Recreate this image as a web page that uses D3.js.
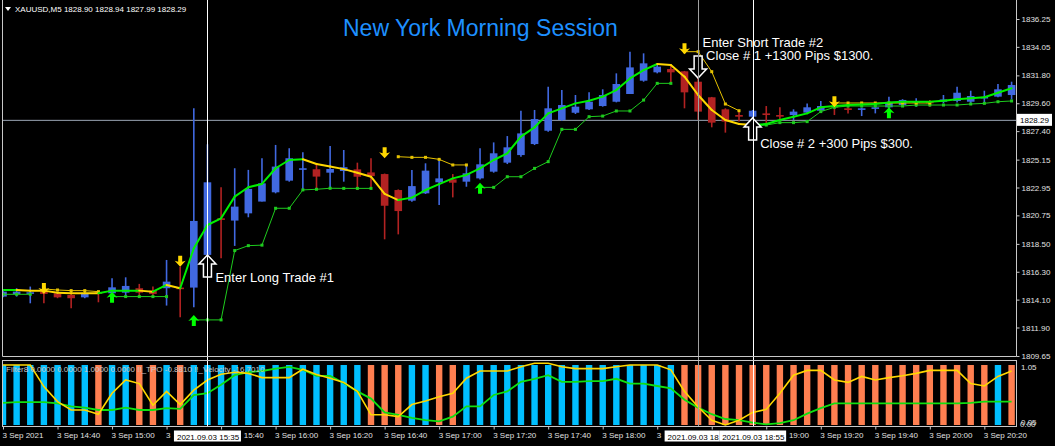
<!DOCTYPE html>
<html>
<head>
<meta charset="utf-8">
<script src="https://cdn.jsdelivr.net/npm/d3@7"></script>
<style>
  body { margin: 0; background: #000; }
  svg text { font-family: "Liberation Sans", Arial, sans-serif; }
</style>
</head>
<body>
<div id="chart"></div>
<script>
// XAUUSD M5 bars, 3 Sep 2021 from 14:20
var open  = [1814.34,1814.52,1814.60,1814.73,1814.60,1814.47,1814.28,1814.68,1814.60,1814.65,
             1815.00,1814.81,1815.00,1815.05,1815.05,1817.63,1820.52,1820.34,1820.91,1821.84,
             1822.57,1823.49,1824.39,1824.39,1824.12,1824.25,1824.38,1824.14,1824.01,1822.75,
             1821.91,1822.49,1823.36,1823.59,1823.41,1823.67,1824.20,1824.91,1825.51,1826.38,
             1827.43,1828.28,1828.85,1829.12,1829.38,1829.72,1830.33,1831.38,1832.04,1832.30,
             1832.12,1831.30,1830.07,1829.12,1828.67,1828.54,1828.80,1828.67,1828.67,1828.86,
             1829.01,1829.38,1829.20,1829.15,1829.20,1829.28,1829.46,1829.70,1829.72,1829.72,
             1829.78,1829.72,1829.99,1830.12,1830.25]
var high  = [1814.86,1815.00,1815.13,1814.86,1814.68,1814.55,1814.68,1814.73,1815.78,1815.86,
             1815.34,1815.13,1817.23,1816.70,1829.20,1826.36,1822.97,1824.47,1824.34,1825.26,
             1826.31,1826.05,1825.73,1824.73,1826.23,1825.91,1824.91,1825.25,1824.05,1822.80,
             1824.33,1824.86,1825.07,1824.01,1824.80,1826.04,1826.51,1827.01,1829.01,1829.07,
             1830.91,1830.64,1830.25,1830.46,1830.70,1831.96,1833.67,1833.54,1832.70,1832.62,
             1832.15,1831.96,1830.10,1829.20,1829.01,1829.07,1829.38,1829.28,1829.12,1829.59,
             1829.78,1829.72,1829.28,1829.25,1829.59,1830.12,1829.92,1829.99,1829.86,1830.25,
             1830.91,1830.59,1830.59,1831.12,1831.30]
var low   = [1814.28,1814.34,1813.81,1813.81,1814.21,1813.42,1814.21,1813.89,1814.21,1814.39,
             1814.34,1814.34,1813.63,1812.71,1813.50,1817.57,1817.36,1818.34,1820.60,1821.84,
             1822.49,1823.41,1822.76,1822.76,1822.81,1823.41,1822.75,1822.88,1818.86,1819.25,
             1821.83,1822.44,1821.57,1822.17,1823.01,1823.59,1824.12,1824.80,1825.38,1826.30,
             1827.36,1828.22,1828.75,1829.07,1829.33,1829.67,1830.33,1831.30,1831.96,1831.17,
             1829.20,1828.28,1827.70,1827.28,1828.15,1828.41,1827.88,1828.28,1828.28,1828.78,
             1828.94,1828.67,1828.80,1828.59,1828.80,1828.90,1829.33,1829.33,1829.33,1829.59,
             1829.65,1829.59,1829.65,1830.07,1829.90]
var close = [1814.73,1814.73,1814.68,1814.55,1814.28,1814.21,1814.60,1814.60,1815.07,1815.18,
             1814.65,1814.55,1815.52,1814.94,1820.31,1823.36,1820.39,1821.44,1822.84,1823.28,
             1824.60,1825.26,1824.47,1823.81,1824.41,1824.55,1823.80,1823.85,1821.51,1821.09,
             1823.06,1824.28,1823.67,1823.33,1824.07,1824.78,1825.65,1826.12,1827.22,1828.35,
             1829.20,1829.46,1829.33,1829.72,1830.25,1831.12,1832.43,1832.75,1832.49,1832.04,
             1830.46,1828.94,1828.07,1828.15,1828.54,1829.01,1828.67,1828.59,1828.94,1829.28,
             1829.38,1829.28,1829.07,1829.20,1829.28,1829.65,1829.86,1829.75,1829.62,1829.90,
             1830.43,1830.17,1830.10,1830.70,1831.04]

// trend moving average (green rising / yellow falling)
var trendMA = [1814.86,1814.86,1814.81,1814.81,1814.65,1814.60,1814.60,1814.60,1814.81,1814.81,
               1814.81,1814.73,1815.26,1815.00,1818.15,1819.99,1820.52,1822.23,1822.97,1823.23,
               1824.47,1825.12,1825.18,1824.81,1824.60,1824.40,1824.12,1823.80,1822.44,1821.96,
               1822.15,1822.75,1823.22,1823.67,1823.94,1824.46,1825.12,1825.65,1826.96,1827.70,
               1828.80,1829.20,1829.59,1829.80,1830.12,1830.64,1831.56,1832.22,1832.70,1832.62,
               1831.70,1830.25,1829.07,1828.28,1827.96,1827.88,1827.96,1828.28,1828.54,1828.80,
               1829.28,1829.38,1829.46,1829.50,1829.54,1829.65,1829.72,1829.72,1829.72,1829.80,
               1829.91,1829.99,1830.07,1830.43,1830.78]

// trailing stops (null = not drawn)
var n = null
var longStop  = [1814.52,1814.52,1814.52,n,n,n,n,n,1814.34,1814.34,
                 1814.34,1814.34,1814.34,n,1812.50,1812.50,1812.50,1817.97,1818.36,1818.40,
                 1821.31,1821.31,1822.76,1822.81,1822.89,1822.88,1822.88,1822.88,n,n,
                 n,n,n,n,n,1822.96,1822.96,1823.80,1823.80,1824.46,
                 1824.99,1827.54,1827.54,1828.54,1828.59,1828.99,1828.99,1829.85,1831.17,1831.17,
                 n,n,n,n,n,1827.80,1827.88,1828.07,1828.07,1828.15,
                 1828.94,1829.28,1829.38,1829.38,1829.38,1829.38,1829.38,1829.46,1829.46,1829.46,
                 1829.46,1829.54,1829.59,1829.72,1829.78]
var shortStop = [n,n,n,1814.94,1814.86,1814.81,1814.81,1814.73,n,n,
                 n,n,n,n,n,n,n,n,n,n,
                 n,n,n,n,n,n,n,n,n,1825.38,
                 1825.33,1825.33,1825.17,1824.73,1824.73,n,n,n,n,n,
                 n,n,n,n,n,n,n,n,n,n,
                 1833.67,1833.67,1832.09,1829.54,1829.01,n,n,n,n,n,
                 n,1829.62,1829.62,1829.62,1829.62,1829.62,1829.62,1829.62,1829.62,n,
                 n,n,n,n,n]

// signal arrows
var sellArrowBars   = [3, 13, 28, 50, 61]
var sellArrowPrices = [1814.54, 1816.70, 1825.26, 1833.46, 1829.28]
var buyArrowBars    = [8, 14, 35, 65]
var buyArrowPrices  = [1814.73, 1812.89, 1823.33, 1829.28]

// trade markers and notes
var tradeArrowBars   = [15, 51, 55]
var tradeArrowPrices = [1817.62, 1831.59, 1828.44]
var tradeArrowDirs   = ["up", "down", "up"]
var noteTexts  = ["Enter Long Trade #1", "Enter Short Trade #2", "Close # 1 +1300 Pips $1300.", "Close # 2 +300 Pips $300."]
var noteBars   = [15, 51, 51, 55]
var notePrices = [1815.5, 1834.04, 1833.01, 1826.07]

// sub window: Filter8 histogram state (1 = sell colour), TPO & velocity lines
var filterState = [0,0,0,0,0,0,0,1,0,0, 1,1,0,1,0,0,0,0,0,0, 0,0,0,0,0,0,0,1,1,1,
                   0,0,1,1,0,0,0,0,0,0, 0,0,0,0,0,0,0,0,0,0, 1,1,1,1,1,1,1,1,1,1,
                   1,1,1,1,1,1,1,1,1,1, 1,1,1,0,1]
var tpoLine = [1.0,1.0,1.0,0.64,0.39,0.25,0.25,0.18,0.53,0.75, 0.69,0.33,0.56,0.34,0.58,0.75,0.845,0.88,0.86,0.79,
               0.79,0.79,0.93,0.84,0.78,0.71,0.56,0.17,0.17,0.14, 0.34,0.40,0.47,0.53,0.78,0.90,0.90,0.90,0.97,1.03,
               1.03,0.97,0.94,0.94,0.94,0.97,1.0,1.0,1.0,0.92, 0.56,0.30,0.08,0.0,0.08,0.21,0.26,0.53,0.83,0.91,
               0.91,0.75,0.71,0.81,0.75,0.79,0.82,0.86,0.91,0.91, 0.91,0.69,0.65,0.81,0.90]
var velLine = [0.37,0.38,0.38,0.38,0.36,0.31,0.29,0.25,0.25,0.29, 0.25,0.25,0.28,0.27,0.50,0.53,0.67,0.83,0.88,0.90,
               0.94,0.97,0.92,0.82,0.82,0.70,0.56,0.44,0.21,0.17, 0.12,0.08,0.06,0.14,0.31,0.31,0.50,0.56,0.72,0.77,
               0.83,0.72,0.72,0.73,0.73,0.77,0.69,0.69,0.65,0.61, 0.42,0.29,0.18,0.10,0.08,0.04,0.01,0.03,0.08,0.19,
               0.28,0.36,0.36,0.36,0.36,0.36,0.36,0.36,0.36,0.36, 0.36,0.37,0.39,0.39,0.39]

// axes; labels partly under the crosshair boxes keep only the part that shows
var priceTicks = [1836.25,1834.05,1831.80,1829.60,1827.40,1825.15,1822.95,1820.75,1818.50,1816.30,1814.10,1811.90,1809.65]
var timeTicks  = ["14:20","14:40","15:00","15:20","15:40","16:00","16:20","16:40","17:00","17:20",
                  "17:40","18:00","18:20","18:40","19:00","19:20","19:40","20:00","20:20"]
var timeLabels = ["3 Sep 2021","3 Sep 14:40","3 Sep 15:00","3","15:40","3 Sep 16:00","3 Sep 16:20",
                  "3 Sep 16:40","3 Sep 17:00","3 Sep 17:20","3 Sep 17:40","3 Sep 18:00","3",
                  "","19:00","3 Sep 19:20","3 Sep 19:40","3 Sep 20:00","3 Sep 20:20"]
var hiddenPrefix = "3 Sep "
var crossTimes  = ["18:35", "18:55", "15:35"]
var crossLabels = ["2021.09.03 18", "2021.09.03 18:55", "2021.09.03 15:35"]
var bidPrice = 1828.29
var headerText = "XAUUSD,M5  1828.90 1828.94 1827.99 1828.29"
var indicatorText = "Filter8 0.0000 0.0000 1.0000 0.0000 !!_TPO -0.8810 !!_Velocity -16.7010"

var W = 1055, H = 446
var LEFT = 2, RIGHT = 1016, MAIN_BOTTOM = 356, SUB_TOP = 360, SUB_BOTTOM = 426

var barTimes = d3.range(open.length).map(function(i){
  return d3.timeFormat("%H:%M")(d3.timeMinute.offset(new Date(2021, 8, 3, 14, 20), i * 5))
})
function barOf(t){ return barTimes.indexOf(t) }

var x  = d3.scaleLinear().domain([0, open.length - 1]).range([3, 1011.6])
var y  = d3.scaleLinear().domain([1809.65, 1836.25]).range([MAIN_BOTTOM, 19])
var yi = d3.scaleLinear().domain([0, 1]).range([425, 365])

var svg = d3.select("#chart").append("svg")
    .attr("width", W).attr("height", H)
    .style("background", "#000")
    .style("display", "block")

svg.append("clipPath").attr("id", "clipMain").append("rect")
    .attr("x", LEFT).attr("y", 0).attr("width", RIGHT - LEFT).attr("height", MAIN_BOTTOM)
svg.append("clipPath").attr("id", "clipSub").append("rect")
    .attr("x", LEFT).attr("y", SUB_TOP).attr("width", RIGHT - LEFT).attr("height", SUB_BOTTOM - SUB_TOP)

var main = svg.append("g").attr("clip-path", "url(#clipMain)")
var sub  = svg.append("g").attr("clip-path", "url(#clipSub)")

// SUB WINDOW histogram
sub.selectAll("rect.fbar").data(filterState).enter().append("rect")
    .attr("class", "fbar")
    .attr("x", function(d, i){ return x(i) - 3.2 })
    .attr("y", yi(1))
    .attr("width", 6.4)
    .attr("height", yi(0) - yi(1))
    .attr("fill", function(d){ return d ? "#ff7f50" : "#00bfff" })

var subLine = d3.line().x(function(d, i){ return x(i) }).y(function(d){ return yi(d) })
sub.append("path").attr("d", subLine(velLine))
    .attr("fill", "none").attr("stroke", "#10e010").attr("stroke-width", 1.8)
sub.append("path").attr("d", subLine(tpoLine))
    .attr("fill", "none").attr("stroke", "#ffd700").attr("stroke-width", 1.6)

sub.append("text").text(indicatorText)
    .attr("x", 6).attr("y", 372)
    .attr("font-size", 8).attr("fill", "#c8c8c8")

// bid line
main.append("line")
    .attr("x1", LEFT).attr("x2", RIGHT)
    .attr("y1", y(bidPrice) + 0.5).attr("y2", y(bidPrice) + 0.5)
    .attr("stroke", "#9aa4b4").attr("stroke-width", 1)

// CANDLES
var candles = main.selectAll("g.candle").data(open).enter().append("g").attr("class", "candle")
function candleColor(i){ return close[i] >= open[i] ? "#4169e1" : "#b22222" }
candles.append("line")
    .attr("x1", function(d, i){ return x(i) }).attr("x2", function(d, i){ return x(i) })
    .attr("y1", function(d, i){ return y(high[i]) }).attr("y2", function(d, i){ return y(low[i]) })
    .attr("stroke", function(d, i){ return candleColor(i) })
    .attr("stroke-width", 1.6)
candles.append("rect")
    .attr("x", function(d, i){ return x(i) - 3.8 })
    .attr("y", function(d, i){ return y(Math.max(open[i], close[i])) })
    .attr("width", 7.6)
    .attr("height", function(d, i){ return Math.max(1.6, Math.abs(y(open[i]) - y(close[i]))) })
    .attr("fill", function(d, i){ return candleColor(i) })

// crosshair verticals across both windows
var vcolors = ["#a0a0a0", "#ffffff", "#ffffff"]
crossTimes.forEach(function(t, k){
  svg.append("line")
    .attr("x1", Math.round(x(barOf(t))) + 0.5).attr("x2", Math.round(x(barOf(t))) + 0.5)
    .attr("y1", 0).attr("y2", SUB_BOTTOM)
    .attr("stroke", vcolors[k]).attr("stroke-width", 1)
})

// trailing stops with dots
var stopLine = d3.line().defined(function(d){ return d != null })
    .x(function(d, i){ return x(i) }).y(function(d){ return y(d) })
function drawStop(values, color){
  main.append("path").attr("d", stopLine(values))
      .attr("fill", "none").attr("stroke", color).attr("stroke-width", 1)
  main.selectAll(null).data(values.map(function(v, i){ return [i, v] }).filter(function(d){ return d[1] != null }))
    .enter().append("rect")
      .attr("x", function(d){ return x(d[0]) - 1.5 }).attr("y", function(d){ return y(d[1]) - 1.5 })
      .attr("width", 3).attr("height", 3).attr("fill", color)
}
drawStop(longStop, "#1ecb1e")
drawStop(shortStop, "#e6c200")

// trend MA, coloured by direction
var dir = "up"
for (var i = 0; i < trendMA.length - 1; i++){
  if (trendMA[i + 1] > trendMA[i]) dir = "up"
  else if (trendMA[i + 1] < trendMA[i]) dir = "down"
  main.append("line")
    .attr("x1", x(i)).attr("y1", y(trendMA[i]))
    .attr("x2", x(i + 1)).attr("y2", y(trendMA[i + 1]))
    .attr("stroke", dir == "up" ? "#00f000" : "#ffd700")
    .attr("stroke-width", 2).attr("stroke-linecap", "round")
}

// signal arrows
sellArrowBars.forEach(function(b, k){
  main.append("path")
    .attr("d", "M0,0 L-5.5,-6 L-2,-5 L-2,-11 L2,-11 L2,-5 L5.5,-6 Z")
    .attr("transform", "translate(" + x(b) + "," + y(sellArrowPrices[k]) + ")")
    .attr("fill", "#ffd700")
})
buyArrowBars.forEach(function(b, k){
  main.append("path")
    .attr("d", "M0,0 L-5.5,6 L-2,5 L-2,11 L2,11 L2,5 L5.5,6 Z")
    .attr("transform", "translate(" + x(b) + "," + y(buyArrowPrices[k]) + ")")
    .attr("fill", "#00ff00")
})

// hollow trade arrows
tradeArrowBars.forEach(function(b, k){
  var s = tradeArrowDirs[k] == "up" ? 1 : -1
  main.append("path")
    .attr("d", "M0,0 L8.5,9 L4,9 L4,22 L-4,22 L-4,9 L-8.5,9 Z")
    .attr("transform", "translate(" + x(b) + "," + y(tradeArrowPrices[k]) + ") scale(1," + s + ")")
    .attr("fill", "#000").attr("stroke", "#fff").attr("stroke-width", 1.5)
})

var noteDx = [8, 4.5, 8, 7.5]
noteTexts.forEach(function(t, k){
  main.append("text").text(t)
    .attr("x", x(noteBars[k]) + noteDx[k]).attr("y", y(notePrices[k]))
    .attr("font-size", 13).attr("fill", "#fff")
})

// title
main.append("text").text("New York Morning Session")
    .attr("x", 343).attr("y", 36)
    .attr("font-size", 23).attr("fill", "#1e90ff")

// header
svg.append("path").attr("d", "M5,7 L11,7 L8,11 Z").attr("fill", "#fff")
svg.append("text").text(headerText)
    .attr("x", 15).attr("y", 12)
    .attr("font-size", 8).attr("fill", "#fff")

// FRAMES
var frame = svg.append("g").attr("stroke", "#c8c8c8").attr("stroke-width", 1).attr("fill", "none")
frame.append("path").attr("d", "M" + (LEFT + 0.5) + ",0 V" + (MAIN_BOTTOM + 0.5) + " H" + (RIGHT + 0.5) + " V0")
frame.append("rect")
    .attr("x", LEFT + 0.5).attr("y", SUB_TOP + 0.5)
    .attr("width", RIGHT - LEFT).attr("height", SUB_BOTTOM - SUB_TOP)

// price axis
var priceAxis = svg.append("g")
    .attr("transform", "translate(" + (RIGHT + 0.5) + ",0)")
    .call(d3.axisRight(y).tickValues(priceTicks).tickFormat(d3.format(".2f")).tickSize(3).tickPadding(2))
priceAxis.select(".domain").remove()
priceAxis.selectAll("line").attr("stroke", "#c8c8c8")
priceAxis.selectAll("text").attr("fill", "#e0e0e0").attr("font-size", 8)
    .attr("font-family", "Liberation Sans, Arial, sans-serif")

// bid label
svg.append("rect").attr("x", RIGHT + 1).attr("y", y(bidPrice) - 6)
    .attr("width", 35).attr("height", 12).attr("fill", "#fff")
svg.append("text").text(d3.format(".2f")(bidPrice))
    .attr("x", RIGHT + 4).attr("y", y(bidPrice) + 3)
    .attr("font-size", 8).attr("fill", "#000")

// sub window scale labels
var subLabels = svg.append("g").attr("font-size", 8).attr("fill", "#e0e0e0")
subLabels.append("text").text("1.05").attr("x", RIGHT + 5).attr("y", yi(1) + 5)
subLabels.append("text").text("0.05").attr("x", RIGHT + 5).attr("y", yi(0) - 0.5)
subLabels.append("text").text("0.00").attr("x", RIGHT + 4).attr("y", yi(0) + 2)

// time axis
var timeAxis = svg.append("g")
    .attr("transform", "translate(0," + (SUB_BOTTOM + 0.5) + ")")
    .call(d3.axisBottom(x)
      .tickValues(timeTicks.map(barOf))
      .tickFormat(function(d, i){ return timeLabels[i] })
      .tickSize(3).tickPadding(3))
timeAxis.select(".domain").remove()
timeAxis.selectAll("line").attr("stroke", "#c8c8c8")
timeAxis.selectAll("text").attr("fill", "#e0e0e0").attr("font-size", 8)
    .attr("text-anchor", "start").attr("dx", -1)
    .attr("font-family", "Liberation Sans, Arial, sans-serif")

// the tail-only labels start where the hidden "3 Sep " part would have ended
var probe = svg.append("text").text(hiddenPrefix.replace(/ /g, "\u00a0"))
    .attr("font-size", 8).attr("font-family", "Liberation Sans, Arial, sans-serif")
var prefixW = probe.node().getComputedTextLength()
probe.remove()
timeAxis.selectAll("text").filter(function(d, i){ return /^\d\d:\d\d$/.test(timeLabels[i]) })
    .attr("dx", prefixW - 1)

// crosshair time boxes; a box that runs under the next one is cut where that one starts
var boxW = 67
crossTimes.forEach(function(t, k){
  var left = x(barOf(t)) - boxW / 2
  var w = boxW
  crossTimes.forEach(function(t2){
    var l2 = x(barOf(t2)) - boxW / 2
    if (l2 > left && l2 < left + w) w = l2 - left
  })
  svg.append("rect").attr("x", left).attr("y", 430.5).attr("width", w).attr("height", 11)
      .attr("fill", "#fff")
  svg.append("text").text(crossLabels[k])
      .attr("x", left + 3).attr("y", 439.5)
      .attr("font-size", 8).attr("fill", "#000")
})
</script>
</body>
</html>
